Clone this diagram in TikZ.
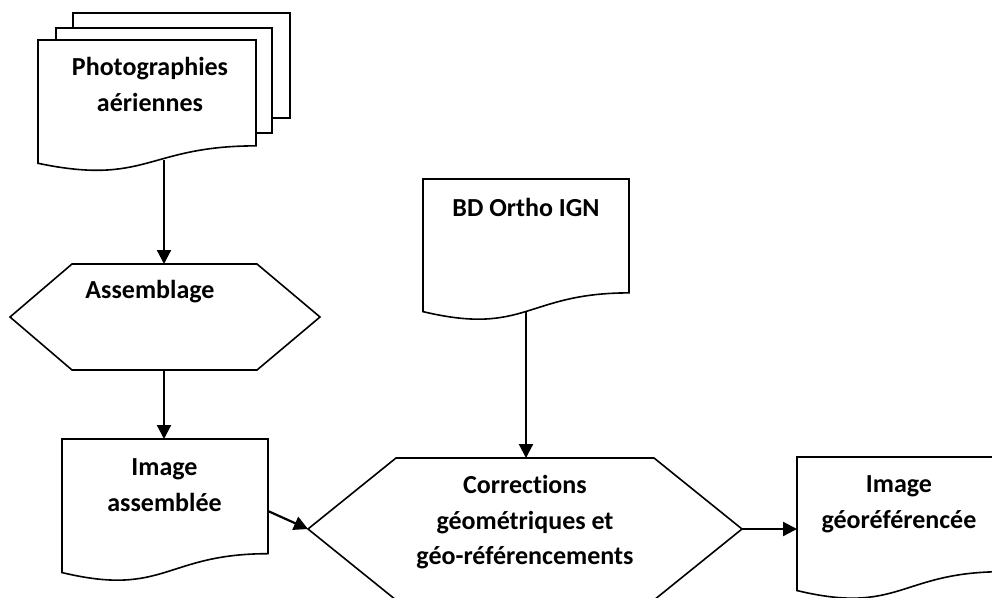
\documentclass[tikz,border=0pt]{standalone}
\usepackage{fontspec}
\setmainfont{Carlito}[Ligatures={NoCommon,NoRequired,NoContextual}]
\usetikzlibrary{arrows.meta}
\newcommand\docpath[4]{% x0, y0, w, h
  \draw[shapeline] (#1,#2) -- ({#1+#3},#2) -- ({#1+#3},{#2+0.802*#4})
    .. controls ({#1+0.5*#3},{#2+0.802*#4}) and ({#1+0.5*#3},{#2+1.107*#4}) ..
    (#1,{#2+0.934*#4}) -- cycle;}
\begin{document}
\begin{tikzpicture}[x=1pt,y=-1pt,
  shapeline/.style={line width=1.6pt, line join=miter, fill=white},
  conn/.style={line width=2.2pt, -{Triangle[width=14pt,length=14pt]}},
  lbl/.style={align=center, inner sep=0pt, font=\fontsize{26}{36}\selectfont\bfseries},
  lbl3/.style={lbl, font=\fontsize{26}{35.5}\selectfont\bfseries}]
\clip (0,0) rectangle (992,597);
% multi-document: photographs
\draw[shapeline] (73,28) -- (73,13) -- (290,13) -- (290,118) -- (272,118);
\draw[shapeline] (56,40) -- (56,28) -- (272,28) -- (272,133) -- (256,133);
\docpath{38}{40}{218}{132}
\node[lbl] (photo) at (150,84) {Photographies\\aériennes};
% hexagon Assemblage
\draw[shapeline] (72,264) -- (257,264) -- (320,317) -- (257,370) -- (72,370) -- (10,317) -- cycle;
\node[lbl] (asm) at (150,292) {Assemblage};
% Image assemblée
\docpath{62}{439}{206}{143}
\node[lbl] (imga) at (164.5,485.5) {Image\\assemblée};
% BD Ortho IGN
\docpath{423}{179}{206}{142}
\node[lbl] (bdo) at (526,207) {BD Ortho IGN};
% central hexagon
\draw[shapeline] (396,458) -- (654,458) -- (742,529) -- (654,600) -- (396,600) -- (308,529) -- cycle;
\node[lbl3] (corr) at (525,522.5) {Corrections\\géométriques et\\géo-référencements};
% Image géoréférencée
\docpath{797}{457}{206}{143}
\node[lbl] (imgg) at (899,504.5) {Image\\géoréférencée};
% connector end points
\coordinate (photo-s) at (164,160);
\coordinate (asm-n) at (164,264);
\coordinate (asm-s) at (164,370);
\coordinate (imga-n) at (164,439);
\coordinate (imga-e) at (268,511);
\coordinate (corr-w) at (308,529);
\coordinate (bdo-s) at (526,312);
\coordinate (corr-n) at (526,458);
\coordinate (corr-e) at (742,529);
\coordinate (imgg-w) at (797,529);
% connectors
\draw[conn] (photo-s) -- (asm-n);
\draw[conn] (asm-s) -- (imga-n);
\draw[conn] (imga-e) -- (corr-w);
\draw[conn] (bdo-s) -- (corr-n);
\draw[conn] (corr-e) -- (imgg-w);
\end{tikzpicture}
\end{document}
